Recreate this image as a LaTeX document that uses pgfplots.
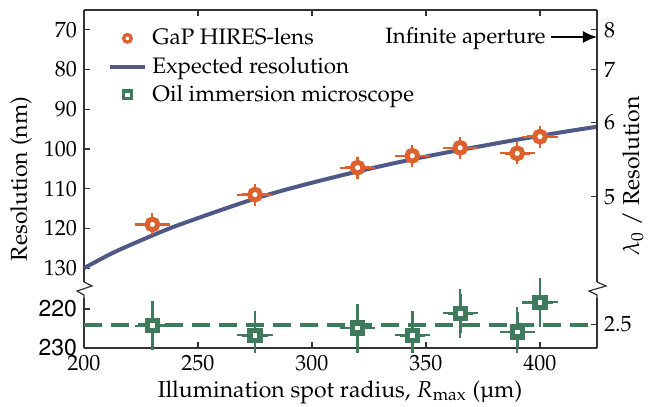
\documentclass[border=0pt]{standalone}
\usepackage[T1]{fontenc}
\usepackage{mathpazo}
\usepackage{pgfplots}
\pgfplotsset{compat=1.18}
\usetikzlibrary{arrows.meta}
\definecolor{gorange}{RGB}{222,96,44}
\definecolor{gblue}{RGB}{80,88,136}
\definecolor{ggreen}{RGB}{64,122,92}
\pgfplotsset{
  base/.style={scale only axis, width=256.5pt, xmin=200, xmax=425, y dir=reverse,
    tick align=inside, major tick length=3pt,
    axis line style={black!80, line width=0.6pt, -},
    x axis line style={-}, y axis line style={-},
    every tick/.style={black!80, line width=0.6pt},
    tick label style={font=\fontsize{11}{13}\selectfont}},
}
\begin{document}
\begin{tikzpicture}
\useasboundingbox (-42pt,5pt) rectangle (285.5pt,-198.5pt);
% top panel
\begin{axis}[base, at={(0pt,0pt)}, anchor=north west, height=136pt,
  ymin=65, ymax=133.5, axis x line*=top, axis y line*=left,
  xtick={200,250,...,400}, xticklabels={}, ytick={70,80,...,130},
  legend style={at={(0.035,0.962)}, anchor=north west, draw=none, fill=none,
    font=\fontsize{11.2}{13}\selectfont, row sep=0.5pt, column sep=1pt},
  legend cell align=left]
\addlegendimage{only marks, mark=*, mark size=1.9pt, line width=1.6pt, mark options={draw=gorange, fill=white, line width=1.6pt}}
\addlegendentry{GaP HIRES-lens}
\addplot[gblue, line width=2pt, smooth] coordinates {
(200,130.0) (212.5,126.2) (225,123.0) (237.5,120.0) (250,117.4) (262.5,114.9)
(275,112.5) (287.5,110.4) (300,108.5) (312.5,106.7) (325,105.0) (337.5,103.4)
(350,101.9) (362.5,100.5) (375,99.2) (387.5,97.9) (400,96.7) (412.5,95.5) (425,94.4)};
\addlegendentry{Expected resolution}
\addlegendimage{only marks, mark=square*, mark size=1.9pt, line width=1.6pt, mark options={draw=ggreen, fill=white, line width=1.6pt}}
\addlegendentry{Oil immersion microscope}
\addplot[forget plot, only marks, mark=*, mark size=2.7pt, line width=2.5pt, mark options={draw=gorange, fill=white, line width=2.5pt}] coordinates {
(230,119.0) (275,111.5) (320,104.7) (344,101.7) (365,99.7) (390,101.1) (400,96.9)};
\addplot[forget plot, draw=none, mark=none,
  error bars/.cd, x dir=both, x explicit, y dir=both, y explicit,
  error bar style={draw=gorange, line width=1.2pt},
  error mark options={draw=gorange, line width=1.1pt, mark size=2.5pt}] coordinates {
(230,119.0) +- (5.5,1.5)
(275,111.5) +- (5.5,1.5)
(320,104.7) +- (5.5,1.5)
(344,101.7) +- (5.5,1.5)
(365,99.7) +- (5.5,1.5)
(390,101.1) +- (5.5,1.5)
(400,96.9) +- (5.5,1.5)};
\end{axis}
\begin{axis}[base, at={(0pt,0pt)}, anchor=north west, height=136pt,
  ymin=65, ymax=133.5, axis x line=none, axis y line*=right,
  ytick={70,80,93.333,112}, yticklabels={8,7,6,5}]
\end{axis}
% bottom panel
\begin{axis}[base, at={(0pt,-144pt)}, anchor=north west, height=25pt,
  ymin=217.2, ymax=230, axis x line*=bottom, axis y line*=left,
  xtick={200,250,...,400}, ytick={220,230}, yticklabels={220,230},
  yticklabel style={font=\fontfamily{phv}\fontsize{11.5}{13}\selectfont}, clip=false]
\addplot[forget plot, ggreen, line width=2pt, dash pattern=on 9pt off 4.5pt] coordinates {(200,224) (425,224)};
\addplot[forget plot, only marks, mark=square*, mark size=2.5pt, line width=2.6pt, mark options={draw=ggreen, fill=white, line width=2.6pt}] coordinates {
(230,224.3) (275,226.7) (320,224.9) (344,226.7) (365,221.1) (390,225.9) (400,218.3)};
\addplot[forget plot, draw=none, mark=none,
  error bars/.cd, x dir=both, x explicit, y dir=both, y explicit,
  error bar style={draw=ggreen, line width=1.4pt},
  error mark options={draw=ggreen, line width=1.2pt, mark size=2.5pt}] coordinates {
(230,224.3) += (5.5,5) -= (5.5,5)
(275,226.7) += (5.5,3.3) -= (5.5,5)
(320,224.9) += (5.5,5) -= (5.5,5)
(344,226.7) += (5.5,3.3) -= (5.5,5)
(365,221.1) += (5.5,5) -= (5.5,5)
(390,225.9) += (5.5,4.1) -= (5.5,5)
(400,218.3) += (5.5,5) -= (5.5,5)};
\end{axis}
\begin{axis}[base, at={(0pt,-144pt)}, anchor=north west, height=25pt,
  ymin=217.2, ymax=230, axis x line=none, axis y line*=right,
  ytick={224}, yticklabels={2.5}]
\end{axis}
% breaks
\draw[black!80, line width=0.6pt] (0pt,-136pt) -- (4pt,-138pt) -- (-3.5pt,-140.5pt) -- (0pt,-142.5pt) -- (0pt,-144pt);
\draw[black!80, line width=0.6pt] (256.5pt,-136pt) -- (261pt,-138pt) -- (252.5pt,-140.5pt) -- (256.5pt,-142.5pt) -- (256.5pt,-144pt);
% annotation
\draw[-{Latex[length=7pt,width=6pt]}, line width=1pt] (233.5pt,-13.5pt) -- (256.5pt,-13.5pt);
\node[anchor=east, font=\fontsize{11.1}{13}\selectfont, inner sep=1pt] at (232pt,-14.5pt) {Infinite aperture};
% labels
\node[rotate=90, font=\fontsize{11.5}{13}\selectfont] at (-31.5pt,-84.5pt) {Resolution (nm)};
\node[rotate=90, font=\fontsize{11.5}{13}\selectfont] at (274.5pt,-83pt) {$\lambda_0$ / Resolution};
\node[font=\fontsize{11.5}{13}\selectfont] at (128pt,-191pt) {Illumination spot radius, $R_{\mathrm{max}}$ (\textmu m)};
\end{tikzpicture}
\end{document}
